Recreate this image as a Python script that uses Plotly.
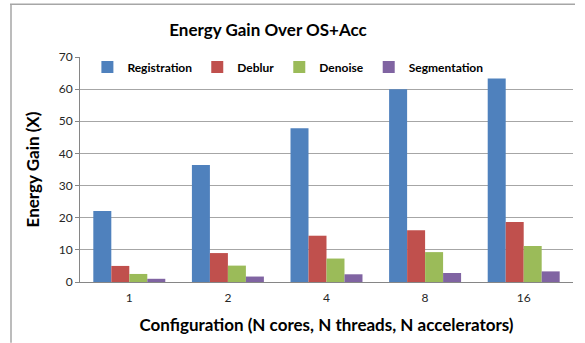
import plotly.graph_objects as go

# Configurations (N cores, N threads, N accelerators)
configs = ["1", "2", "4", "8", "16"]

registration = [22.1, 36.4, 47.8, 60.0, 63.3]
deblur = [5.0, 9.0, 14.4, 16.1, 18.7]
denoise = [2.5, 5.1, 7.3, 9.3, 11.2]
segmentation = [1.0, 1.7, 2.4, 2.8, 3.3]

series = [
    ("Registration", registration, "#4F81BD"),
    ("Deblur", deblur, "#C0504D"),
    ("Denoise", denoise, "#9BBB59"),
    ("Segmentation", segmentation, "#8064A2"),
]

FONT = "Lato"

fig = go.Figure()
for name, vals, color in series:
    fig.add_trace(go.Bar(
        x=configs, y=vals, name=f"<b>{name}</b>",
        marker=dict(color=color, line=dict(width=0)),
    ))

fig.update_layout(
    width=585, height=343,
    margin=dict(l=80, r=12, t=57, b=61),
    paper_bgcolor="white", plot_bgcolor="white",
    barmode="group", bargap=0.27, bargroupgap=0,
    font=dict(family=FONT, color="#262626"),
    title=dict(
        text="<b>Energy Gain Over OS+Acc</b>",
        x=268 / 585, xanchor="center", xref="container",
        y=1 - 30 / 343, yanchor="middle", yref="container",
        font=dict(size=17, family=FONT, color="#000000"),
    ),
    legend=dict(
        orientation="h", x=0.015, xanchor="left", y=1.02, yanchor="top",
        font=dict(size=12, family=FONT, color="#000000"),
        bgcolor="rgba(0,0,0,0)", itemwidth=30, tracegroupgap=0,
    ),
    showlegend=True,
)

fig.update_xaxes(
    type="category",
    showline=True, linecolor="#868686", linewidth=1,
    ticks="", tickfont=dict(size=12, color="#262626"),
    ticklabelstandoff=5,
    title=dict(text="<b>Configuration (N cores, N threads, N accelerators)</b>",
               font=dict(size=17, color="#000000"), standoff=14),
)
fig.update_yaxes(
    range=[0, 70], dtick=10,
    showgrid=True, gridcolor="#A6A6A6", gridwidth=1,
    showline=True, linecolor="#868686", linewidth=1,
    ticks="outside", ticklen=4, tickcolor="#868686",
    tickfont=dict(size=12, color="#262626"),
    title=dict(text="<b>Energy Gain (X)</b>",
               font=dict(size=17, color="#000000"), standoff=14),
    zeroline=False,
)

# Chart area border (top and left edges)
fig.add_shape(type="line", xref="paper", yref="paper",
              x0=(10 - 80) / 493, x1=(575 - 80) / 493,
              y0=1 + (57.3 - 4.5) / 225, y1=1 + (57.3 - 4.5) / 225,
              line=dict(color="#A6A6A6", width=1.5))
fig.add_shape(type="line", xref="paper", yref="paper",
              x0=(11 - 80) / 493, x1=(11 - 80) / 493,
              y0=-(343 - 282.3) / 225, y1=1 + (57.3 - 4.5) / 225,
              line=dict(color="#A6A6A6", width=1.5))

fig.write_html("out.html")
